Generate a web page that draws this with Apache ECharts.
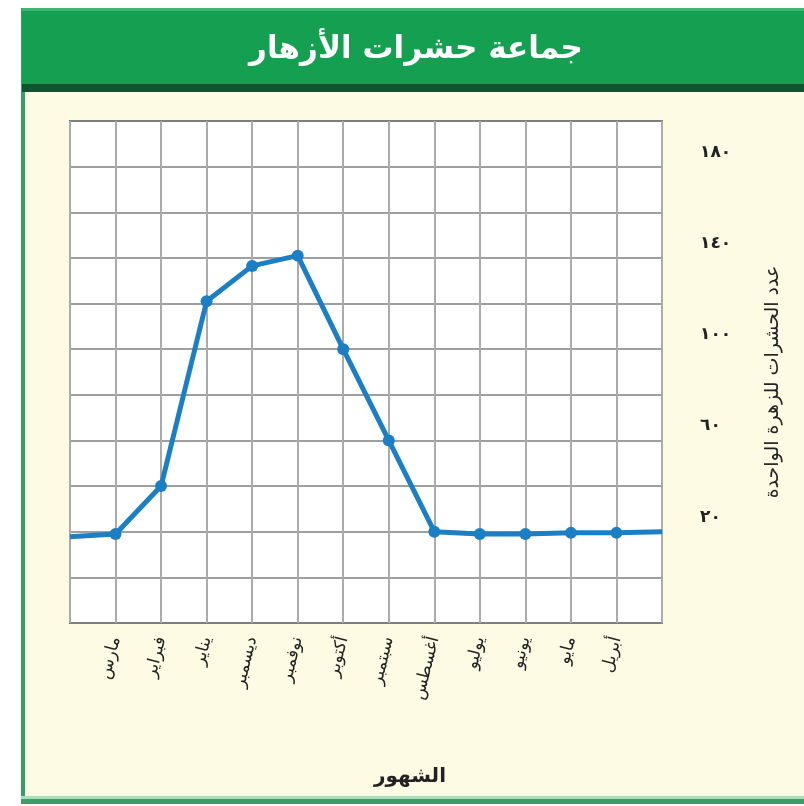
<!DOCTYPE html>
<html><head><meta charset="utf-8">
<script src="https://cdn.jsdelivr.net/npm/echarts@6/dist/echarts.min.js"></script>
<style>html,body{margin:0;padding:0;background:#fff}#c{width:804px;height:806px}</style>
</head><body><div id="c"></div>
<script>
const chartTitle = 'جماعة حشرات الأزهار';
const months = ['', 'مارس', 'فبراير', 'يناير', 'ديسمبر', 'نوفمبر', 'أكتوبر', 'سبتمبر', 'أغسطس', 'يوليو', 'يونيو', 'مايو', 'أبريل', ''];
const insects = [17.8, 19, 40, 121, 136.5, 141, 100, 60, 20, 19, 19, 19.5, 19.5, 20];
const yTickValues = [20, 60, 100, 140, 180];
const yTickLabels = ['٢٠', '٦٠', '١٠٠', '١٤٠', '١٨٠'];
const xAxisName = 'الشهور';
const yAxisName = 'عدد الحشرات للزهرة الواحدة';

const FONT = 'DejaVu Sans';
const chart = echarts.init(document.getElementById('c'));
chart.setOption({
  animation: false,
  backgroundColor: '#ffffff',
  textStyle: { fontFamily: FONT },
  title: {
    text: chartTitle, left: 411, top: 29, textAlign: 'center',
    textStyle: { color: '#ffffff', fontSize: 31, fontWeight: 'bold', fontFamily: FONT }
  },
  graphic: [
    { type: 'rect', z: -10, shape: { x: 22, y: 90, width: 782, height: 712 }, style: { fill: '#fdfbe4' } },
    { type: 'rect', z: -9, shape: { x: 21, y: 8, width: 4, height: 796 }, style: { fill: '#33a065' } },
    { type: 'rect', z: -9, shape: { x: 21, y: 796, width: 783, height: 3 }, style: { fill: '#a9e0bb' } },
    { type: 'rect', z: -9, shape: { x: 21, y: 799, width: 783, height: 5 }, style: { fill: '#3d9e69' } },
    { type: 'rect', z: -8, shape: { x: 22, y: 8, width: 782, height: 77 }, style: { fill: '#14a050' } },
    { type: 'rect', z: -8, shape: { x: 22, y: 8, width: 782, height: 3 }, style: { fill: '#3db673' } },
    { type: 'rect', z: -8, shape: { x: 22, y: 84, width: 782, height: 8 }, style: { fill: '#0b5631' } }
  ],
  grid: {
    left: 70, right: 142, top: 121, bottom: 183,
    show: true, backgroundColor: '#ffffff', borderColor: '#7c7c7c', borderWidth: 2
  },
  xAxis: {
    type: 'category', data: months, boundaryGap: false,
    name: xAxisName, nameLocation: 'middle', nameGap: 144,
    nameTextStyle: { fontSize: 20, fontWeight: 'bold', color: '#222', padding: [0, 0, 0, 88], fontFamily: FONT },
    axisLine: { show: false }, axisTick: { show: false },
    axisLabel: { interval: 0, rotate: 76, margin: 14, fontSize: 17, color: '#222', fontFamily: FONT },
    splitLine: { show: true, interval: 0, lineStyle: { color: '#ababab', width: 2 } }
  },
  yAxis: {
    type: 'value', position: 'right', min: -20, max: 200, interval: 20,
    name: yAxisName, nameLocation: 'middle', nameGap: 102, nameRotate: 90,
    nameTextStyle: { fontSize: 19, color: '#222', fontFamily: FONT, padding: [0, 20, 0, 0] },
    axisLine: { show: false }, axisTick: { show: false },
    axisLabel: {
      margin: 38, fontSize: 17, fontWeight: 'bold', color: '#222', fontFamily: FONT,
      verticalAlign: 'bottom', padding: [0, 0, 6, 0],
      formatter: function (v) { const i = yTickValues.indexOf(v); return i >= 0 ? yTickLabels[i] : ''; }
    },
    splitLine: { show: true, lineStyle: { color: '#7f7f7f', width: 1.5 } }
  },
  series: [{
    type: 'line',
    data: insects.map(function (v, i) { return months[i] === '' ? { value: v, symbol: 'none' } : v; }),
    symbol: 'circle', symbolSize: 12,
    lineStyle: { color: '#1b7fc6', width: 5 },
    itemStyle: { color: '#1b7fc6' }
  }]
});
</script></body></html>
